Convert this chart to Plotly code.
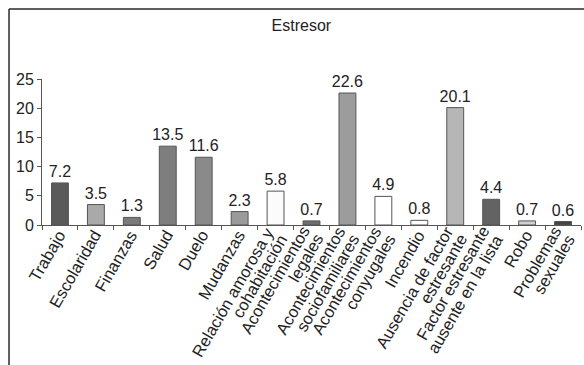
import math
import plotly.graph_objects as go

# Stressor categories (each entry lists the lines of its axis label) and percentages
categories = [
    "Trabajo",
    "Escolaridad",
    "Finanzas",
    "Salud",
    "Duelo",
    "Mudanzas",
    "Relación amorosa y cohabitación",
    "Acontecimientos legales",
    "Acontecimientos sociofamiliares",
    "Acontecimientos conyugales",
    "Incendio",
    "Ausencia de factor estresante",
    "Factor estresante ausente en la lista",
    "Robo",
    "Problemas sexuales",
]
label_lines = [
    ["Trabajo"],
    ["Escolaridad"],
    ["Finanzas"],
    ["Salud"],
    ["Duelo"],
    ["Mudanzas"],
    ["Relación amorosa y", "cohabitación"],
    ["Acontecimientos", "legales"],
    ["Acontecimientos", "sociofamiliares"],
    ["Acontecimientos", "conyugales"],
    ["Incendio"],
    ["Ausencia de factor", "estresante"],
    ["Factor estresante", "ausente en la lista"],
    ["Robo"],
    ["Problemas", "sexuales"],
]
values = [7.2, 3.5, 1.3, 13.5, 11.6, 2.3, 5.8, 0.7, 22.6, 4.9, 0.8, 20.1, 4.4, 0.7, 0.6]
y_ticks = [0, 5, 10, 15, 20, 25]

bar_colors = [
    "#5a5a5a", "#a9a9a9", "#7a7a7a", "#7e7e7e", "#8a8a8a", "#9a9a9a",
    "#fbfbfb", "#6e6e6e", "#9c9c9c", "#ffffff", "#ffffff", "#b6b6b6",
    "#636363", "#cfcfcf", "#444444",
]

FONT = "Liberation Sans, Arial, sans-serif"
TXT = "#222222"
BASE_SIZE = 16
LABEL_SIZE = 16.5
ANGLE = 60                     # label slope in degrees (rising to the right)
LINE_STEP = 15.5               # spacing between stacked label lines, px
BOX_H = LABEL_SIZE * 1.3 + 4   # annotation box height incl. padding, px
END_DX, END_DY = 0, 6          # label block end point relative to the tick, px

fig = go.Figure(
    go.Bar(
        x=categories,
        y=values,
        marker=dict(color=bar_colors, line=dict(color="#555555", width=1)),
        text=[f"{v}" for v in values],
        textposition="outside",
        textfont=dict(family=FONT, size=BASE_SIZE, color=TXT),
        cliponaxis=False,
        hoverinfo="x+y",
    )
)

# Rotated, right-aligned category labels, one annotation per line
s, c = math.sin(math.radians(ANGLE)), math.cos(math.radians(ANGLE))
for cat, lines in zip(categories, label_lines):
    n = len(lines)
    for i, line in enumerate(lines):
        k = (i - (n - 1) / 2) * LINE_STEP
        mx = END_DX + k * s
        my = END_DY + k * c
        fig.add_annotation(
            x=cat, y=0, xref="x", yref="paper",
            text=line, showarrow=False, textangle=-ANGLE,
            xanchor="right", yanchor="top",
            xshift=mx + BOX_H / 2 * s,
            yshift=-my + BOX_H / 2 * c,
            font=dict(family=FONT, size=LABEL_SIZE, color=TXT),
        )

# Outer frame: left and top edges only
fig.add_shape(type="line", xref="paper", yref="paper",
              x0=-0.0612, x1=-0.0612, y0=-1.0, y1=1.479,
              line=dict(color="#2a2a2a", width=1.5))
fig.add_shape(type="line", xref="paper", yref="paper",
              x0=-0.0612, x1=1.1, y0=1.479, y1=1.479,
              line=dict(color="#2a2a2a", width=1.5))

fig.update_layout(
    width=584,
    height=365,
    margin=dict(l=42, r=3, t=79, b=140),
    paper_bgcolor="white",
    plot_bgcolor="white",
    bargap=0.53,
    showlegend=False,
    uniformtext=dict(minsize=BASE_SIZE, mode="show"),
    font=dict(family=FONT, size=BASE_SIZE, color=TXT),
    title=dict(text="Estresor", x=0.516, xanchor="center", y=0.93, yanchor="middle",
               font=dict(family=FONT, size=BASE_SIZE, color=TXT)),
    xaxis=dict(
        type="category",
        range=[-0.5, len(categories) - 0.5],
        tickson="boundaries",
        ticks="outside",
        ticklen=4,
        tickcolor="#555555",
        showticklabels=False,
        showline=True,
        linecolor="#555555",
        linewidth=1,
        showgrid=False,
        automargin=False,
    ),
    yaxis=dict(
        range=[0, 25],
        tickvals=y_ticks,
        ticks="outside",
        ticklen=4,
        tickcolor="#555555",
        showline=True,
        linecolor="#555555",
        linewidth=1,
        showgrid=False,
        zeroline=False,
        tickfont=dict(family=FONT, size=BASE_SIZE, color=TXT),
        automargin=False,
    ),
)

fig.write_html("out.html")
